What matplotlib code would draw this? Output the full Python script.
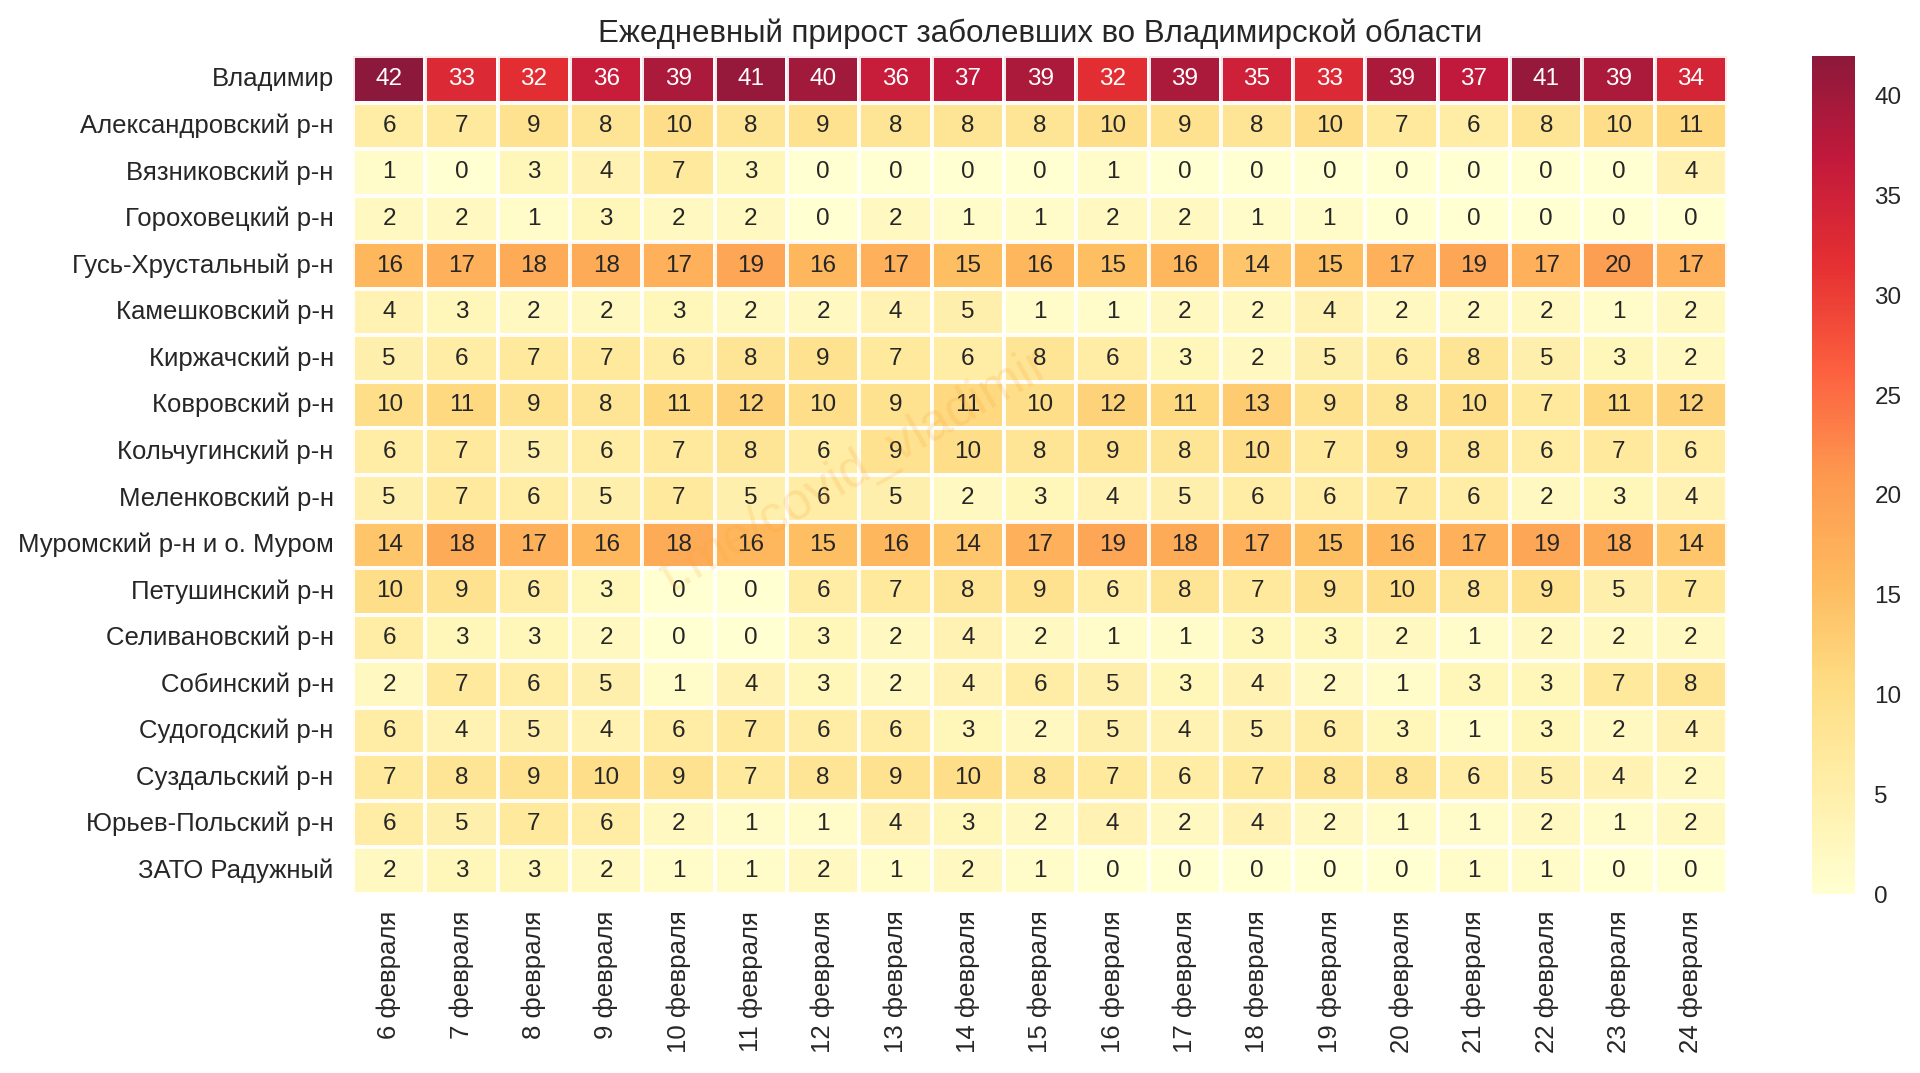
import matplotlib
matplotlib.use("Agg")
import matplotlib.pyplot as plt
import seaborn as sns
import numpy as np

regions = ["Владимир", "Александровский р-н", "Вязниковский р-н", "Гороховецкий р-н",
           "Гусь-Хрустальный р-н", "Камешковский р-н", "Киржачский р-н", "Ковровский р-н",
           "Кольчугинский р-н", "Меленковский р-н", "Муромский р-н и о. Муром",
           "Петушинский р-н", "Селивановский р-н", "Собинский р-н", "Судогодский р-н",
           "Суздальский р-н", "Юрьев-Польский р-н", "ЗАТО Радужный"]
dates = [f"{d} февраля" for d in range(6, 25)]

vladimir = [42, 33, 32, 36, 39, 41, 40, 36, 37, 39, 32, 39, 35, 33, 39, 37, 41, 39, 34]
aleksandrov = [6, 7, 9, 8, 10, 8, 9, 8, 8, 8, 10, 9, 8, 10, 7, 6, 8, 10, 11]
vyazniki = [1, 0, 3, 4, 7, 3, 0, 0, 0, 0, 1, 0, 0, 0, 0, 0, 0, 0, 4]
gorokhovets = [2, 2, 1, 3, 2, 2, 0, 2, 1, 1, 2, 2, 1, 1, 0, 0, 0, 0, 0]
gus = [16, 17, 18, 18, 17, 19, 16, 17, 15, 16, 15, 16, 14, 15, 17, 19, 17, 20, 17]
kameshkovo = [4, 3, 2, 2, 3, 2, 2, 4, 5, 1, 1, 2, 2, 4, 2, 2, 2, 1, 2]
kirzhach = [5, 6, 7, 7, 6, 8, 9, 7, 6, 8, 6, 3, 2, 5, 6, 8, 5, 3, 2]
kovrov = [10, 11, 9, 8, 11, 12, 10, 9, 11, 10, 12, 11, 13, 9, 8, 10, 7, 11, 12]
kolchugino = [6, 7, 5, 6, 7, 8, 6, 9, 10, 8, 9, 8, 10, 7, 9, 8, 6, 7, 6]
melenki = [5, 7, 6, 5, 7, 5, 6, 5, 2, 3, 4, 5, 6, 6, 7, 6, 2, 3, 4]
murom = [14, 18, 17, 16, 18, 16, 15, 16, 14, 17, 19, 18, 17, 15, 16, 17, 19, 18, 14]
petushki = [10, 9, 6, 3, 0, 0, 6, 7, 8, 9, 6, 8, 7, 9, 10, 8, 9, 5, 7]
selivanovo = [6, 3, 3, 2, 0, 0, 3, 2, 4, 2, 1, 1, 3, 3, 2, 1, 2, 2, 2]
sobinka = [2, 7, 6, 5, 1, 4, 3, 2, 4, 6, 5, 3, 4, 2, 1, 3, 3, 7, 8]
sudogda = [6, 4, 5, 4, 6, 7, 6, 6, 3, 2, 5, 4, 5, 6, 3, 1, 3, 2, 4]
suzdal = [7, 8, 9, 10, 9, 7, 8, 9, 10, 8, 7, 6, 7, 8, 8, 6, 5, 4, 2]
yuryev = [6, 5, 7, 6, 2, 1, 1, 4, 3, 2, 4, 2, 4, 2, 1, 1, 2, 1, 2]
raduzhny = [2, 3, 3, 2, 1, 1, 2, 1, 2, 1, 0, 0, 0, 0, 0, 1, 1, 0, 0]

data = np.array([vladimir, aleksandrov, vyazniki, gorokhovets, gus, kameshkovo, kirzhach,
                 kovrov, kolchugino, melenki, murom, petushki, selivanovo, sobinka,
                 sudogda, suzdal, yuryev, raduzhny])

sns.set_theme(style="white")
plt.rcParams['font.family'] = ['Liberation Sans', 'DejaVu Sans']
plt.rcParams['text.color'] = '#262626'
plt.rcParams['xtick.color'] = '#262626'
plt.rcParams['ytick.color'] = '#262626'

fig = plt.figure(figsize=(19.2, 10.73), dpi=100)
ax = fig.add_axes([0.1839, 0.1668, 0.7156, 0.781])
cax = fig.add_axes([0.9438, 0.1668, 0.0223, 0.781])

sns.heatmap(data, ax=ax, cbar_ax=cax, cmap="YlOrRd", vmin=0, vmax=42, alpha=0.9,
            annot=True, fmt="d", annot_kws={"fontsize": 17.5},
            linewidths=1.5, linecolor="white",
            xticklabels=dates, yticklabels=regions)

ax.tick_params(axis='y', length=0, pad=14)
ax.tick_params(axis='x', length=0, pad=12)
ax.set_yticklabels(regions, fontsize=18.5, rotation=0)
ax.set_xticklabels(dates, fontsize=18.5, rotation=90)
ax.set_title("Ежедневный прирост заболевших во Владимирской области", fontsize=22.5, pad=10)

cax.tick_params(labelsize=17.5, length=0, pad=14)
cax.set_yticks([0, 5, 10, 15, 20, 25, 30, 35, 40])
for s in cax.spines.values():
    s.set_visible(False)

fig.text(0.4453, 0.560, "t.me/covid_vladimir", fontsize=37, color="#f5a030", alpha=0.18,
         rotation=30, ha="center", va="center")

fig.savefig("out.png", dpi=100)
